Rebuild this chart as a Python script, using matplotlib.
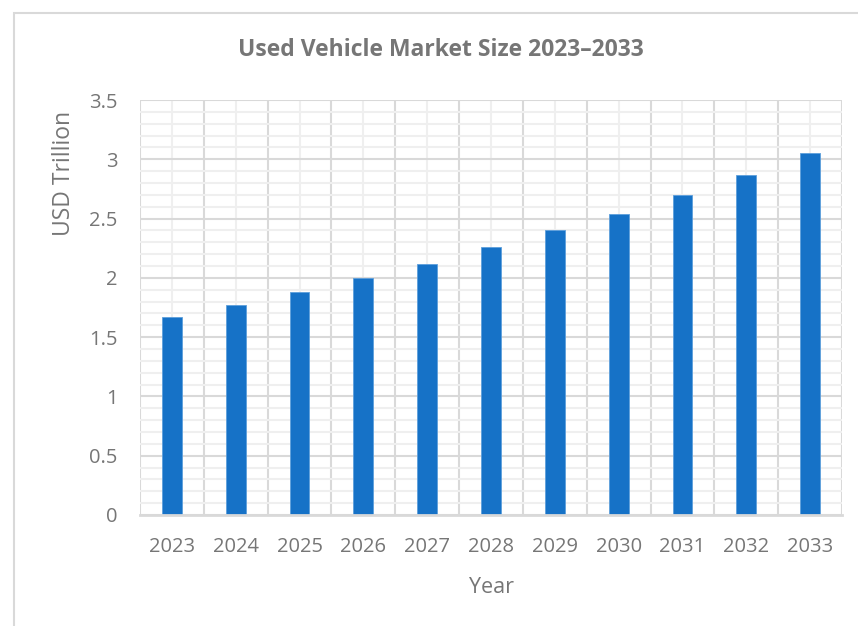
import numpy as np
import matplotlib.pyplot as plt
from matplotlib.patches import Rectangle
from matplotlib.ticker import MultipleLocator

years = ['2023', '2024', '2025', '2026', '2027', '2028', '2029', '2030', '2031', '2032', '2033']
market_size = [1.67, 1.77, 1.88, 2.00, 2.12, 2.26, 2.40, 2.54, 2.70, 2.87, 3.05]

plt.rcParams['font.family'] = ['Open Sans', 'DejaVu Sans']
txt = '#767676'

fig = plt.figure(figsize=(8.58, 6.26), dpi=100)
ax = fig.add_axes([140 / 858, 1 - 515 / 626, 702 / 858, 415 / 626])

# light frame around the whole chart, running off the right and bottom edges
fig.patches.append(Rectangle((14 / 858, -0.1), 1.2, 1 - 13 / 626 + 0.1,
                             transform=fig.transFigure, fill=False,
                             edgecolor='#d9d9d9', lw=1.5))

x = np.arange(len(years))
ax.bar(x, market_size, width=0.31, color='#1672c7', edgecolor='#5d9fdc', lw=0.6, zorder=3)

ax.set_xlim(-0.5, len(years) - 0.5)
ax.set_ylim(0, 3.5)
ax.set_xticks(x, years)
ax.set_xticks(np.arange(-0.5, len(years), 1), minor=True)
ax.yaxis.set_major_locator(MultipleLocator(0.5))
ax.yaxis.set_minor_locator(MultipleLocator(0.1))
ax.set_yticks([0, 0.5, 1, 1.5, 2, 2.5, 3, 3.5], ['0', '0.5', '1', '1.5', '2', '2.5', '3', '3.5'])

ax.grid(which='minor', axis='y', color='#efefef', lw=1.5, zorder=0)
ax.grid(which='major', axis='y', color='#d9d9d9', lw=1.5, zorder=1)
ax.grid(which='major', axis='x', color='#efefef', lw=1.5, zorder=0)
ax.grid(which='minor', axis='x', color='#d9d9d9', lw=1.5, zorder=1)

for s in ['top', 'right', 'left']:
    ax.spines[s].set_visible(False)
ax.spines['bottom'].set_color('#d9d9d9')
ax.spines['bottom'].set_linewidth(2)
ax.spines['bottom'].set_zorder(4)

ax.tick_params(which='both', length=0)
ax.tick_params(axis='x', pad=16, labelsize=14.5, labelcolor=txt)
ax.tick_params(axis='y', pad=16, labelsize=14.5, labelcolor=txt)

ax.set_ylabel('USD Trillion', fontsize=16.5, color=txt)
ax.yaxis.set_label_coords(-0.091, 0.822)
ax.set_xlabel('Year', fontsize=15.5, color=txt)
ax.xaxis.set_label_coords(0.5, -0.149)

fig.text(441 / 858, 1 - 50 / 626, 'Used Vehicle Market Size 2023–2033',
         ha='center', va='center', fontsize=16.5, fontweight='bold', color=txt)

fig.savefig('out.png', dpi=100)
